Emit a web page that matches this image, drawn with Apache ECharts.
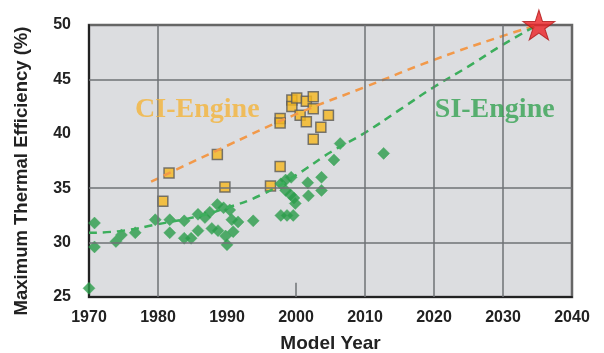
<!DOCTYPE html>
<html>
<head>
<meta charset="utf-8">
<script src="https://cdn.jsdelivr.net/npm/echarts@6/dist/echarts.min.js"></script>
<style>html,body{margin:0;padding:0;background:#fff}#c{width:604px;height:353px}</style>
</head>
<body>
<div id="c"></div>
<script>
// ---- data ----
const xTicks = [1970, 1980, 1990, 2000, 2010, 2020, 2030, 2040];
const yTicks = [25, 30, 35, 40, 45, 50];
const ciPoints = [
  [1980.7, 33.8], [1981.6, 36.4], [1988.6, 38.1], [1989.7, 35.1], [1996.3, 35.2],
  [1997.7, 37.0], [1997.7, 41.4], [1997.7, 41.0], [1999.4, 43.1], [1999.4, 42.5],
  [2000.1, 43.3], [2000.6, 41.7], [2001.5, 43.0], [2001.5, 41.1], [2002.5, 43.4],
  [2002.5, 42.3], [2002.5, 39.5], [2003.6, 40.6], [2004.7, 41.7]
];
const siPoints = [
  [1970.0, 25.8], [1970.8, 31.8], [1970.8, 29.6], [1973.9, 30.1], [1974.7, 30.7],
  [1976.7, 30.9], [1979.6, 32.1], [1981.7, 32.1], [1981.7, 30.9], [1983.8, 32.0],
  [1983.8, 30.4], [1984.8, 30.4], [1985.8, 31.1], [1985.8, 32.6], [1986.8, 32.3],
  [1987.5, 32.8], [1988.6, 33.5], [1987.8, 31.3], [1988.7, 31.1], [1989.5, 33.2],
  [1989.8, 30.6], [1990.0, 29.8], [1990.4, 33.0], [1990.7, 32.1], [1990.9, 31.0],
  [1991.6, 31.9], [1993.8, 32.0],
  [1997.8, 35.4], [1998.5, 35.75], [1999.3, 36.0], [1998.5, 34.8], [1999.2, 34.4],
  [1999.7, 34.1], [1999.9, 33.6], [1997.8, 32.5], [1998.7, 32.5], [1999.6, 32.5],
  [2001.7, 35.5], [2001.8, 34.3], [2003.7, 36.0], [2003.7, 34.8], [2005.5, 37.6],
  [2006.4, 39.1], [2012.7, 38.2]
];
const ciTrend = [[1979, 35.6], [1990, 38.9], [2000, 41.8], [2010, 44.3], [2020, 46.8], [2030, 49.0], [2035, 50]];
const siTrend = [[1970, 30.9], [1975, 31.1], [1980, 31.7], [1985, 32.3], [1990, 33.2], [1995, 34.4],
                 [2000, 36.2], [2005, 38.3], [2010, 40.1], [2015, 42.2], [2020, 44.3], [2025, 46.2], [2030, 48.2], [2035, 50]];
const targetPoint = [[2035.2, 50]];
const vGrid = [1980, 2010, 2020, 2030];
const hGrid = [30, 35, 45];
const labelCI = [[1985.7, 42.2, 'CI-Engine']];
const labelSI = [[2028.8, 42.2, 'SI-Engine']];

const chart = echarts.init(document.getElementById('c'));
const gridLineStyle = {color: '#6f7276', width: 1.5, type: 'solid'};
chart.setOption({
  animation: false,
  grid: {left: 89, right: 32, top: 25, bottom: 56, show: true, backgroundColor: '#dcdde0',
         borderColor: '#666', borderWidth: 2.5, containLabel: false, outerBoundsMode: 'none'},
  xAxis: {
    type: 'value', min: 1970, max: 2040, interval: 10,
    name: 'Model Year', nameLocation: 'middle', nameGap: 37,
    nameTextStyle: {fontFamily: 'Liberation Sans', fontWeight: 'bold', fontSize: 19, color: '#222'},
    axisLine: {show: true, lineStyle: {color: '#222', width: 2}},
    axisTick: {show: false},
    splitLine: {show: false},
    axisLabel: {fontFamily: 'Liberation Sans', fontWeight: 'bold', fontSize: 16, color: '#222', margin: 13,
                formatter: v => xTicks.includes(v) ? String(v) : ''}
  },
  yAxis: {
    type: 'value', min: 25, max: 50, interval: 5,
    name: 'Maximum Thermal Efficiency (%)', nameLocation: 'middle', nameGap: 58, nameRotate: 90,
    nameTextStyle: {fontFamily: 'Liberation Sans', fontWeight: 'bold', fontSize: 18.5, color: '#222',
                    padding: [0, 20, 0, 0]},
    axisLine: {show: true, lineStyle: {color: '#222', width: 2}},
    axisTick: {show: false},
    splitLine: {show: false},
    axisLabel: {fontFamily: 'Liberation Sans', fontWeight: 'bold', fontSize: 16, color: '#222', margin: 18,
                formatter: v => yTicks.includes(v) ? String(v) : ''}
  },
  series: [
    {
      type: 'line', data: [], silent: true, z: 1,
      markLine: {
        silent: true, symbol: 'none', label: {show: false}, lineStyle: gridLineStyle,
        data: vGrid.map(v => ({xAxis: v})).concat(hGrid.map(v => ({yAxis: v})))
          .concat([[{coord: [2000, 25]}, {coord: [2000, 26.3]}]])
      }
    },
    {
      name: 'CI', type: 'scatter', data: ciPoints, symbol: 'rect', symbolSize: 10, z: 3,
      itemStyle: {color: '#f6b81e', borderColor: '#5a5a5a', borderWidth: 1.5}
    },
    {
      name: 'SI', type: 'scatter', data: siPoints, symbol: 'diamond', symbolSize: 12, z: 3,
      itemStyle: {color: '#2a9c4a', borderColor: '#3aa757', borderWidth: 0.5}
    },
    {
      type: 'line', data: ciTrend, smooth: true, symbol: 'none', z: 4,
      lineStyle: {color: '#f2994a', width: 2.5, type: [8, 6]}
    },
    {
      type: 'line', data: siTrend, smooth: true, symbol: 'none', z: 4,
      lineStyle: {color: '#3cae5c', width: 2.5, type: [8, 6]}
    },
    {
      type: 'scatter', data: targetPoint, z: 5,
      symbol: 'path://M50,0 L61,35 L98,35 L68,57 L79,91 L50,70 L21,91 L32,57 L2,35 L39,35 Z',
      symbolSize: [32, 30],
      itemStyle: {color: '#ec2226', borderColor: '#b01818', borderWidth: 1}
    },
    {
      type: 'scatter', data: labelCI, symbolSize: 0, z: 6, silent: true,
      label: {show: true, position: 'inside', formatter: p => p.data[2],
              fontFamily: 'Liberation Serif', fontWeight: 'bold', fontSize: 28, color: '#f4b43a'}
    },
    {
      type: 'scatter', data: labelSI, symbolSize: 0, z: 6, silent: true,
      label: {show: true, position: 'inside', formatter: p => p.data[2],
              fontFamily: 'Liberation Serif', fontWeight: 'bold', fontSize: 28, color: '#36a352'}
    }
  ]
});
</script>
</body>
</html>
